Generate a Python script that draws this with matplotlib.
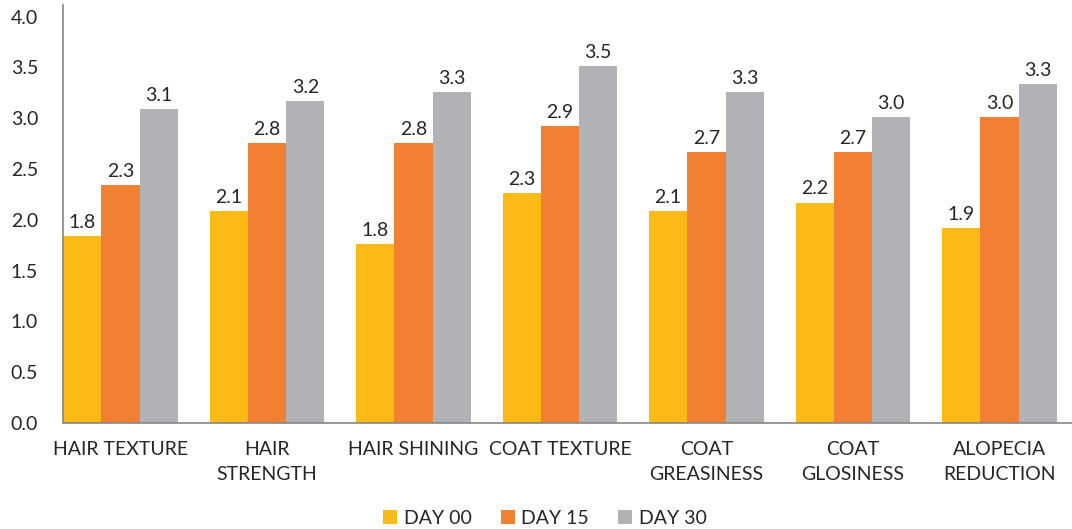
import matplotlib
matplotlib.use("Agg")
import matplotlib.pyplot as plt
import numpy as np

categories = ["HAIR TEXTURE", "HAIR\nSTRENGTH", "HAIR SHINING", "COAT TEXTURE",
              "COAT\nGREASINESS", "COAT\nGLOSINESS", "ALOPECIA\nREDUCTION"]
series_names = ["DAY 00", "DAY 15", "DAY 30"]
day00 = [1.84, 2.09, 1.76, 2.26, 2.09, 2.17, 1.92]
day15 = [2.34, 2.76, 2.76, 2.92, 2.67, 2.67, 3.01]
day30 = [3.09, 3.17, 3.26, 3.51, 3.26, 3.01, 3.34]
colors = ["#FBBA16", "#F28033", "#B1B2B5"]
yticks = [0.0, 0.5, 1.0, 1.5, 2.0, 2.5, 3.0, 3.5, 4.0]

plt.rcParams['font.family'] = ['Lato', 'DejaVu Sans']
text_color = "#262626"
fs = 14

fig = plt.figure(figsize=(10.72, 5.29), dpi=100)
ax = fig.add_axes([63/1072, (529-423)/529, 1 - 63/1072, (423-5)/529])

x = np.arange(len(categories))
w = 0.2615
for i, (vals, name, c) in enumerate(zip([day00, day15, day30], series_names, colors)):
    pos = x + (i - 1) * w
    bars = ax.bar(pos, vals, width=w, color=c, label=name, zorder=2)
    for b, v in zip(bars, vals):
        ax.text(b.get_x() + b.get_width() / 2, v + 0.05, f"{v:.1f}",
                ha="center", va="bottom", fontsize=fs, color=text_color)

ax.set_xlim(-1.5 * w, 6.495)
ax.set_ylim(0, 4.115)
ax.set_yticks(yticks)
ax.set_yticklabels([f"{t:.1f}" for t in yticks])
ax.set_xticks(x)
ax.set_xticklabels(categories, linespacing=1.55)
ax.tick_params(axis="y", length=0, pad=18, labelsize=fs, labelcolor=text_color)
ax.tick_params(axis="x", length=0, pad=13, labelsize=fs, labelcolor=text_color)

for s in ["top", "right"]:
    ax.spines[s].set_visible(False)
for s in ["left", "bottom"]:
    ax.spines[s].set_color("#868686")
    ax.spines[s].set_linewidth(1.2)

leg = fig.legend(loc="center", bbox_to_anchor=(545/1072, 1 - 518/529), ncol=3,
                 frameon=False, fontsize=fs, handlelength=0.7, handleheight=0.7,
                 handletextpad=0.35, columnspacing=1.5, labelcolor=text_color)

fig.savefig("out.png", dpi=100)
